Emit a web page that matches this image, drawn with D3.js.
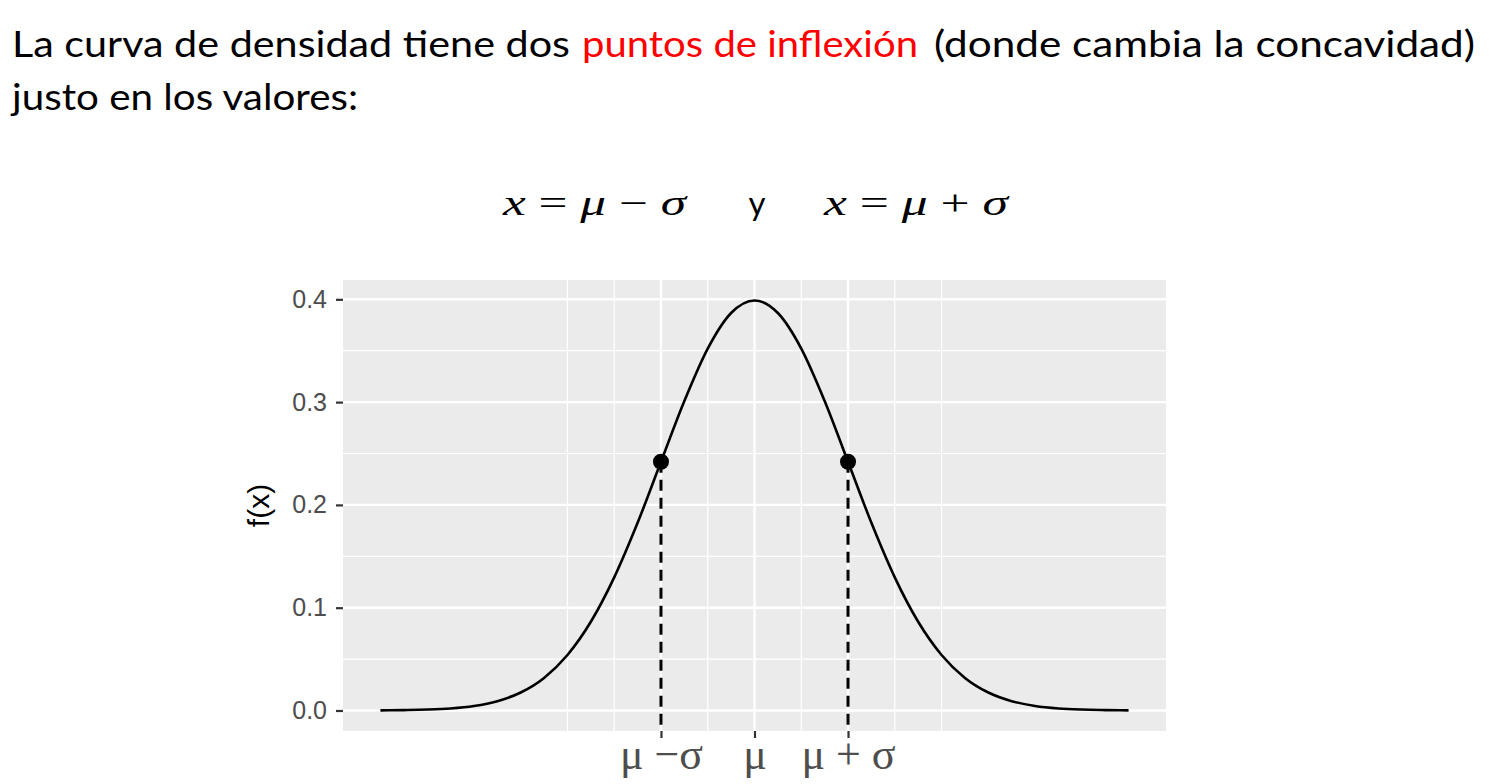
<!DOCTYPE html>
<html>
<head>
<meta charset="utf-8">
<script src="https://cdn.jsdelivr.net/npm/d3@7"></script>
<style>
  html, body { margin: 0; padding: 0; background: #fff; }
  svg { display: block; }
</style>
</head>
<body>
<svg id="chart" width="1489" height="784"></svg>
<script>
// ---- data ----
const curveX = [-4,-3.75,-3.5,-3.25,-3,-2.75,-2.5,-2.25,-2,-1.75,-1.5,-1.25,-1,-0.75,-0.5,-0.25,0,
                0.25,0.5,0.75,1,1.25,1.5,1.75,2,2.25,2.5,2.75,3,3.25,3.5,3.75,4];
const curveY = [0.0001,0.0004,0.0009,0.0020,0.0044,0.0091,0.0175,0.0317,0.0540,0.0863,0.1295,0.1826,0.2420,0.3011,0.3521,0.3867,0.3989,
                0.3867,0.3521,0.3011,0.2420,0.1826,0.1295,0.0863,0.0540,0.0317,0.0175,0.0091,0.0044,0.0020,0.0009,0.0004,0.0001];
const inflexX = [-1, 1];
const inflexY = [0.2420, 0.2420];
const xBreaks = [-1, 0, 1];
const xLabels = ["μ −σ", "μ", "μ + σ"];
const xMinor = [-2, -1.5, -0.5, 0.5, 1.5, 2];
const yBreaks = [0, 0.1, 0.2, 0.3, 0.4];
const yMinor = [0.05, 0.15, 0.25, 0.35];
const yAxisTitle = "f(x)";

const svg = d3.select("#chart");

// ---- header text ----
const t1 = svg.append("text").attr("y", 57)
  .style("font-family", "Lato, 'DejaVu Sans', sans-serif").style("font-size", "36px").attr("fill", "#000");
t1.append("tspan").attr("x", 12).attr("textLength", 558).attr("lengthAdjust", "spacingAndGlyphs")
  .text("La curva de densidad tiene dos");
t1.append("tspan").attr("x", 582).attr("textLength", 336).attr("lengthAdjust", "spacingAndGlyphs")
  .attr("fill", "#ff0000").text("puntos de inflexión");
t1.append("tspan").attr("x", 934).attr("textLength", 541).attr("lengthAdjust", "spacingAndGlyphs")
  .text("(donde cambia la concavidad)");
svg.append("text").attr("x", 12).attr("y", 110)
  .style("font-family", "Lato, 'DejaVu Sans', sans-serif").style("font-size", "36px")
  .attr("textLength", 346).attr("lengthAdjust", "spacingAndGlyphs")
  .text("justo en los valores:");

// math line
function mathEq(x0, width, op) {
  const t = svg.append("text").attr("x", x0).attr("y", 215)
    .attr("textLength", width).attr("lengthAdjust", "spacingAndGlyphs")
    .style("font-family", "'Liberation Serif', 'DejaVu Serif', serif").style("font-size", "35px");
  t.append("tspan").style("font-style", "italic").text("x");
  t.append("tspan").text(" = ");
  t.append("tspan").style("font-style", "italic").text("μ");
  t.append("tspan").text(" " + op + " ");
  t.append("tspan").style("font-style", "italic").text("σ");
}
mathEq(503, 183, "−");
svg.append("text").attr("x", 757).attr("y", 215).attr("text-anchor", "middle")
  .style("font-family", "Lato, 'DejaVu Sans', sans-serif").style("font-size", "33px").text("y");
mathEq(824, 184, "+");

// ---- plot ----
const pL = 343, pR = 1166, pT = 280, pB = 731;
const x = d3.scaleLinear().domain([-4.4, 4.4]).range([pL, pR]);
const y = d3.scaleLinear().domain([-0.01995, 0.4188]).range([pB, pT]);

const g = svg.append("g");
g.append("rect").attr("x", pL).attr("y", pT).attr("width", pR - pL).attr("height", pB - pT)
  .attr("fill", "#EBEBEB");

// minor grid
g.selectAll(".ymin").data(yMinor).enter().append("line")
  .attr("x1", pL).attr("x2", pR).attr("y1", d => y(d)).attr("y2", d => y(d))
  .attr("stroke", "#fff").attr("stroke-width", 1.2);
g.selectAll(".xmin").data(xMinor).enter().append("line")
  .attr("y1", pT).attr("y2", pB).attr("x1", d => x(d)).attr("x2", d => x(d))
  .attr("stroke", "#fff").attr("stroke-width", 1.2);
// major grid
g.selectAll(".ymaj").data(yBreaks).enter().append("line")
  .attr("x1", pL).attr("x2", pR).attr("y1", d => y(d)).attr("y2", d => y(d))
  .attr("stroke", "#fff").attr("stroke-width", 2.4);
g.selectAll(".xmaj").data(xBreaks).enter().append("line")
  .attr("y1", pT).attr("y2", pB).attr("x1", d => x(d)).attr("x2", d => x(d))
  .attr("stroke", "#fff").attr("stroke-width", 2.4);

// curve
const pts = curveX.map((d, i) => [d, curveY[i]]);
g.append("path").datum(pts)
  .attr("d", d3.line().x(d => x(d[0])).y(d => y(d[1])).curve(d3.curveMonotoneX))
  .attr("fill", "none").attr("stroke", "#000").attr("stroke-width", 2.6);

// dashed segments
g.selectAll(".dash").data(inflexX).enter().append("line")
  .attr("x1", d => x(d)).attr("x2", d => x(d))
  .attr("y1", (d, i) => y(inflexY[i])).attr("y2", pB)
  .attr("stroke", "#000").attr("stroke-width", 3).attr("stroke-dasharray", "11,7");

// points
g.selectAll(".pt").data(inflexX).enter().append("circle")
  .attr("cx", d => x(d)).attr("cy", (d, i) => y(inflexY[i])).attr("r", 8).attr("fill", "#000");

// axes
const yAxis = d3.axisLeft(y).tickValues(yBreaks).tickFormat(d3.format(".1f")).tickSize(7).tickPadding(9);
const ya = svg.append("g").attr("transform", `translate(${pL},0)`).call(yAxis);
ya.select(".domain").remove();
ya.selectAll(".tick line").attr("stroke", "#333").attr("stroke-width", 2.2);
ya.selectAll(".tick text").attr("fill", "#4d4d4d")
  .style("font-family", "'Liberation Sans', Arial, sans-serif").style("font-size", "25px");

const xAxis = d3.axisBottom(x).tickValues(xBreaks).tickFormat((d, i) => xLabels[i]).tickSize(7).tickPadding(0);
const xa = svg.append("g").attr("transform", `translate(0,${pB})`).call(xAxis);
xa.select(".domain").remove();
xa.selectAll(".tick line").attr("stroke", "#333").attr("stroke-width", 2.2);
xa.selectAll(".tick text").attr("fill", "#4d4d4d")
  .style("font-family", "'Liberation Serif', 'DejaVu Serif', serif").style("font-size", "44px");

svg.append("text")
  .attr("transform", `translate(269,${(pT + pB) / 2}) rotate(-90)`)
  .attr("text-anchor", "middle")
  .style("font-family", "'Liberation Sans', Arial, sans-serif").style("font-size", "30px")
  .text(yAxisTitle);
</script>
</body>
</html>
